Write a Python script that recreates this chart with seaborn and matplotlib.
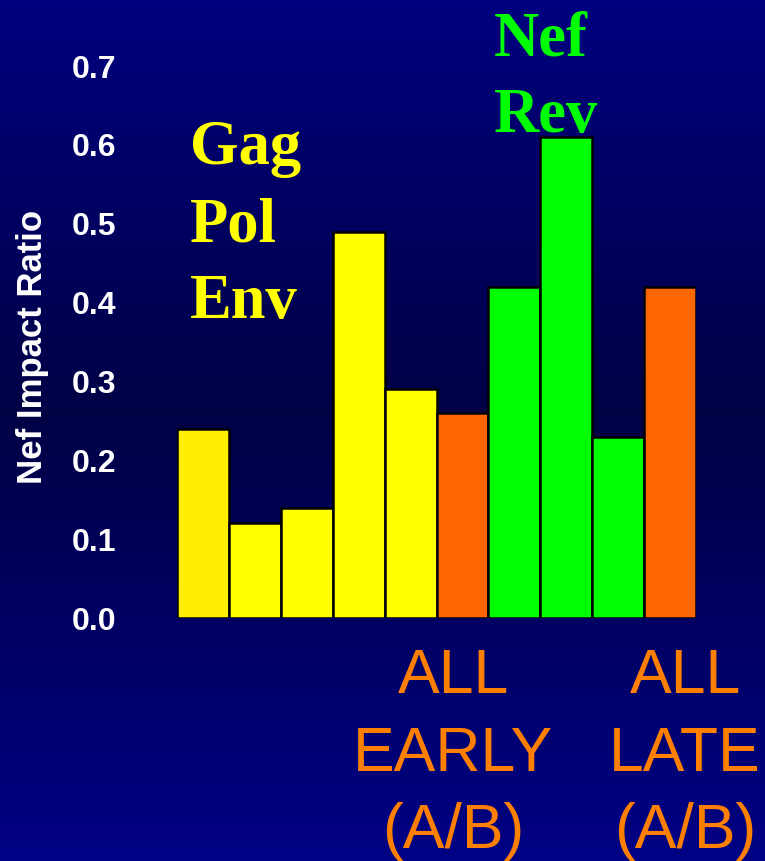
import matplotlib
matplotlib.use("Agg")
import matplotlib.pyplot as plt
import numpy as np
import pandas as pd
import seaborn as sns

# bar values
samples = ["G1", "G2", "G3", "G4", "G5", "E1", "N1", "N2", "N3", "L1"]
ratios = [0.24, 0.12, 0.14, 0.49, 0.29, 0.26, 0.42, 0.61, 0.23, 0.42]
bar_colors = ["#FFEE00", "#FFFF00", "#FFFF00", "#FFFF00", "#FFFF00",
              "#FF6600", "#00FF00", "#00FF00", "#00FF00", "#FF6600"]
yticks = [0.0, 0.1, 0.2, 0.3, 0.4, 0.5, 0.6, 0.7]

df = pd.DataFrame({"sample": samples, "ratio": ratios})

sns.set_style("white")
plt.rcParams['font.family'] = ['Liberation Sans', 'DejaVu Sans']

fig = plt.figure(figsize=(7.65, 8.61), dpi=100)

# navy gradient background
bg = fig.add_axes([0, 0, 1, 1], zorder=-10)
t = np.linspace(0, 1, 256)
shade = 0.27 + 0.25 * np.abs(t - 0.48) / 0.52
grad = np.zeros((256, 1, 3))
grad[:, 0, 2] = shade
bg.imshow(grad, aspect="auto", extent=[0, 1, 0, 1], origin="upper")
bg.axis("off")

ax = fig.add_axes([177 / 765, 1 - 618 / 861, (696 - 177) / 765, (618 - 66) / 861])
ax.set_facecolor("none")
sns.barplot(data=df, x="sample", y="ratio", hue="sample", palette=bar_colors,
            width=1.0, edgecolor="black", linewidth=1.8, legend=False,
            dodge=False, saturation=1, ax=ax)
ax.set_xlim(-0.5, 9.5)
ax.set_ylim(0, 0.7)
ax.set_yticks(yticks)
ax.set_yticklabels(["%.1f" % v for v in yticks], color="white",
                   fontsize=23, fontweight="bold")
ax.tick_params(axis="y", length=0, pad=44)
ax.set_xticks([])
ax.set_xlabel("")
ax.set_ylabel("")
for s in ax.spines.values():
    s.set_visible(False)

fig.text(33 / 765, 1 - 347 / 861, "Nef Impact Ratio", rotation=90,
         color="white", fontsize=25, fontweight="bold", ha="center", va="center")

serif = ["Liberation Serif", "DejaVu Serif"]
fig.text(190 / 765, 1 - 318 / 861, "Gag\nPol\nEnv", color="#FFFF00",
         family=serif, fontsize=45, fontweight="bold", ha="left", va="baseline",
         linespacing=1.43)
fig.text(494 / 765, 1 - 132 / 861, "Nef\nRev", color="#00FF00",
         family=serif, fontsize=45, fontweight="bold", ha="left", va="baseline",
         linespacing=1.43)

fig.text(453 / 765, 1 - 848 / 861, "ALL\nEARLY\n(A/B)", color="#FF8000",
         fontsize=45, ha="center", va="baseline", linespacing=1.4)
fig.text(685 / 765, 1 - 848 / 861, "ALL\nLATE\n(A/B)", color="#FF8000",
         fontsize=45, ha="center", va="baseline", linespacing=1.4)

fig.savefig("out.png", dpi=100)
